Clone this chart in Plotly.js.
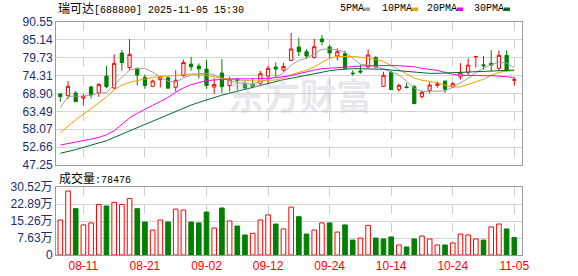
<!DOCTYPE html>
<html><head><meta charset="utf-8">
<script src="https://cdn.plot.ly/plotly-3.0.1.min.js"></script>
<style>html,body{margin:0;padding:0;background:#fff}#chart{width:578px;height:276px}</style>
</head><body><div id="chart"></div>
<script>
// ---------- data ----------
const stockName = '瑞可达';
const stockCode = '688800';
const stamp = '2025-11-05 15:30';
const dates = ['08-06','08-07','08-08','08-11','08-12','08-13','08-14','08-15','08-18','08-19',
  '08-20','08-21','08-22','08-25','08-26','08-27','08-28','08-29','09-01','09-02',
  '09-03','09-04','09-05','09-08','09-09','09-10','09-11','09-12','09-15','09-16',
  '09-17','09-18','09-19','09-22','09-23','09-24','09-25','09-26','09-29','09-30',
  '10-09','10-10','10-13','10-14','10-15','10-16','10-17','10-20','10-21','10-22',
  '10-23','10-24','10-27','10-28','10-29','10-30','10-31','11-03','11-04','11-05'];
const openP = [68.75,68.24,69.05,67.5,70.87,69.05,74.2,70.57,81.16,76.72,
  76.52,73.8,71.07,73.1,73.7,70.77,74.3,77.8,77.2,76.3,
  70.87,75.1,71.3,73.2,71.97,71.77,71.97,74.2,76.9,76.0,
  78.94,82.98,81.57,79.75,85.4,82.98,80.25,80.96,75.1,75.7,
  76.92,79.75,71.07,75.3,70.16,70.9,70.97,67.94,69.85,71.37,
  72.68,70.87,73.9,75.3,80.0,77.6,78.0,76.52,80.46,72.9];
const highP = [68.95,72.68,69.65,68.75,71.2,72.0,77.3,80.76,82.07,85.4,
  76.7,74.7,73.1,74.3,74.0,76.0,79.2,79.95,78.0,79.0,
  73.5,79.3,74.0,73.2,72.7,73.5,75.7,77.3,78.3,78.2,
  87.2,85.8,82.3,85.4,86.6,83.6,82.6,81.87,75.9,77.7,
  82.3,80.25,75.5,75.8,71.87,72.1,71.47,69.85,72.3,72.5,
  72.68,72.3,78.1,79.55,80.1,80.25,82.07,81.97,81.97,73.7];
const lowP = [66.4,67.23,66.4,65.2,67.4,67.9,70.5,70.06,75.8,75.9,
  71.3,70.3,71.07,70.7,70.5,69.5,74.0,75.8,73.5,70.3,
  68.75,69.05,69.5,69.8,69.95,70.46,71.17,71.67,74.0,75.5,
  78.74,80.25,79.55,79.55,83.6,79.55,78.94,76.52,74.3,74.9,
  76.52,76.52,71.07,70.06,69.45,70.46,65.82,67.43,68.85,70.66,
  69.05,70.46,73.1,74.5,76.82,76.1,75.5,75.9,75.5,71.27];
const closeP = [67.94,71.07,66.43,68.0,68.45,71.67,70.97,78.03,78.24,80.76,
  74.5,71.3,72.68,73.9,70.5,72.89,78.3,77.0,76.4,71.3,
  71.67,70.97,73.1,72.8,70.66,71.07,74.9,76.52,76.3,77.1,
  82.37,81.57,80.25,83.08,84.6,81.16,81.57,76.52,74.9,75.4,
  80.56,76.92,74.4,70.06,71.37,70.7,65.82,69.25,71.47,71.77,
  70.16,71.87,75.2,77.5,80.1,77.3,77.5,80.46,76.0,73.1];
const prevClose = 67.2; // close of the session before the first one shown
const ma5 = [64.6,68.0,68.1,68.1,68.4,69.0,69.2,71.4,73.6,76.0,
  76.5,76.5,75.4,73.8,72.6,72.4,73.6,74.5,74.9,75.0,
  74.6,73.4,72.8,72.2,72.0,71.8,72.5,73.2,73.9,75.1,
  77.5,78.9,79.6,80.9,82.3,82.3,82.2,81.4,79.7,77.8,
  77.5,77.0,76.4,75.4,74.6,72.6,70.5,69.5,69.6,69.7,
  69.7,70.8,72.1,73.5,75.2,76.6,77.6,78.4,78.1,76.7];
const ma10 = [57.0,59.0,61.0,62.6,64.3,65.9,67.8,70.0,71.4,72.3,
  72.8,73.3,73.8,74.0,74.2,74.4,74.6,74.8,74.7,74.3,
  73.9,73.5,73.2,73.0,72.8,72.7,72.7,72.8,73.0,73.6,
  74.6,75.3,76.0,77.0,78.4,79.6,80.1,80.2,80.1,79.9,
  79.6,79.2,78.6,77.4,76.1,75.0,73.6,72.9,72.6,72.2,
  71.4,70.8,70.9,71.6,72.4,73.2,74.4,75.3,75.7,75.8];
const ma20 = [53.3,53.7,54.1,54.6,55.1,55.6,56.4,57.6,59.5,61.5,
  62.9,64.0,65.3,66.5,67.7,69.3,70.6,71.6,72.3,72.8,
  73.0,73.2,73.3,73.4,73.3,73.3,73.4,73.5,73.7,73.9,
  74.3,74.9,75.5,76.0,76.4,76.6,76.8,77.0,77.1,77.2,
  77.3,77.4,77.4,77.4,77.3,77.2,77.0,76.5,76.2,75.9,
  75.3,74.7,74.4,74.3,74.3,74.3,74.3,74.2,74.0,73.6];
const ma30 = [50.8,51.3,51.9,52.6,53.2,53.8,54.6,55.6,56.6,57.6,
  58.6,59.5,60.5,61.5,62.5,63.4,64.4,65.4,66.2,67.0,
  67.7,68.4,69.0,69.6,70.3,70.9,71.5,72.1,72.6,73.1,
  73.5,74.0,74.5,75.0,75.4,75.8,76.1,76.3,76.4,76.4,
  76.4,76.3,76.2,76.0,75.8,75.5,75.2,75.0,75.0,75.0,
  75.1,75.2,75.4,75.6,75.7,75.8,75.9,76.0,76.0,76.0];
// volume in 万 (10k lots)
const volume = [15.7,28.7,20.8,13.5,14.4,22.7,22.0,23.6,22.7,25.4,
  20.8,14.8,11.2,15.7,14.8,20.6,20.2,14.8,14.4,19.3,
  12.1,21.1,15.3,13.0,9.0,9.7,15.7,18.0,13.9,11.7,
  21.5,17.2,9.4,11.2,14.4,14.4,10.3,13.5,6.7,7.6,
  13.3,7.6,7.2,8.1,4.5,3.6,7.2,8.5,7.2,4.5,
  4.5,5.4,9.4,9.0,7.2,6.7,12.6,13.9,11.7,7.8476];
const priceTicks = [47.25,52.66,58.07,63.49,68.90,74.31,79.73,85.14,90.55];
const volTicks = [0,7.63,15.26,22.89,30.52];
const dateTicks = ['08-11','08-21','09-02','09-12','09-24','10-14','10-24','11-05'];
const maNames = ['5PMA','10PMA','20PMA','30PMA'];

// ---------- styling ----------
const UP = '#ff0000', DOWN = '#008000';
const maColors = ['#a0a0a0','#f0a000','#ff00ff','#006a30'];
const L = 56, T = 22, W = 466, H = 233;
const px2x = px => (px - L) / W;
const py2y = py => (T + H - py) / H;
const TICKCOL = '#1a2d6e';
const mono = 'Liberation Mono, DejaVu Sans Mono, monospace';
const cjk = 'Noto Sans CJK SC, sans-serif';

const volUp = closeP.map((c, i) => c >= (i ? closeP[i - 1] : prevClose));

const traces = [];
traces.push({
  type: 'candlestick', x: dates, open: openP, high: highP, low: lowP, close: closeP,
  xaxis: 'x', yaxis: 'y', whiskerwidth: 0,
  increasing: {line: {color: UP, width: 1}, fillcolor: '#ffffff'},
  decreasing: {line: {color: DOWN, width: 1}, fillcolor: DOWN},
  hoverinfo: 'skip'
});
[ma5, ma10, ma20, ma30].forEach((m, k) => traces.push({
  type: 'scatter', mode: 'lines', x: dates, y: m, xaxis: 'x', yaxis: 'y',
  line: {color: maColors[k], width: 1}, hoverinfo: 'skip', name: maNames[k]
}));
traces.push({
  type: 'bar', x: dates, y: volume, xaxis: 'x2', yaxis: 'y2', width: 0.6,
  marker: {color: volUp.map(u => u ? '#ffffff' : DOWN),
           line: {color: volUp.map(u => u ? UP : DOWN), width: 1}},
  hoverinfo: 'skip'
});

const gridC = '#d4d4d4', lineC = '#9a9a9a';
const xRange = [-0.56, 60.0];
const layout = {
  width: 578, height: 276, margin: {l: L, r: 578 - L - W, t: T, b: 276 - T - H},
  paper_bgcolor: '#ffffff', plot_bgcolor: '#ffffff', showlegend: false,
  boxgap: 0.4, bargap: 0.4,
  xaxis: {type: 'category', range: xRange, anchor: 'y', showticklabels: false,
    tickmode: 'array', tickvals: dateTicks, ticks: '', showgrid: true, griddash: 'dash',
    gridcolor: '#cfcfcf', showline: true, linecolor: lineC, mirror: true,
    rangeslider: {visible: false}, fixedrange: true},
  yaxis: {domain: [(T + H - 165) / H, 1], range: [priceTicks[0], priceTicks[priceTicks.length - 1]],
    tickmode: 'array', tickvals: priceTicks, ticktext: priceTicks.map(v => v.toFixed(2)),
    ticks: '', gridcolor: gridC, showline: true, linecolor: lineC, mirror: true, zeroline: false,
    tickfont: {family: 'Liberation Sans, Arial, sans-serif', size: 12, color: TICKCOL}, fixedrange: true},
  xaxis2: {type: 'category', range: xRange, anchor: 'y2', tickmode: 'array', tickvals: dateTicks,
    ticktext: dateTicks, ticks: '', showgrid: true, griddash: 'dash', gridcolor: '#cfcfcf',
    showline: true, linecolor: lineC, mirror: true,
    tickfont: {family: 'Liberation Sans, Arial, sans-serif', size: 12, color: '#ff0000'}, fixedrange: true},
  yaxis2: {domain: [0, (T + H - 187) / H], range: [0, volTicks[volTicks.length - 1]],
    tickmode: 'array', tickvals: volTicks, ticktext: volTicks.map(v => v === 0 ? '0' : v.toFixed(2) + '万'),
    ticks: '', gridcolor: gridC, showline: true, linecolor: lineC, mirror: true, zeroline: false,
    tickfont: {family: 'Liberation Sans, Arial, ' + cjk, size: 12, color: TICKCOL}, fixedrange: true},
  annotations: [],
  shapes: []
};

// watermark
layout.annotations.push({xref: 'paper', yref: 'paper', x: px2x(300), y: py2y(94),
  xanchor: 'center', yanchor: 'middle', showarrow: false,
  text: '<b>东方财富</b>', font: {family: cjk, size: 36, color: 'rgba(190,190,200,0.35)'}});
// title
layout.annotations.push({xref: 'paper', yref: 'paper', x: px2x(56), y: py2y(8),
  xanchor: 'left', yanchor: 'middle', showarrow: false,
  text: stockName + '<span style="font-family:' + mono + ';font-size:10px">[' + stockCode + '] ' + stamp + '</span>',
  font: {family: cjk, size: 12, color: '#000000'}});
// legend
const legX = [338, 380, 425, 472];
maNames.forEach((n, k) => {
  layout.annotations.push({xref: 'paper', yref: 'paper', x: px2x(legX[k]), y: py2y(9),
    xanchor: 'left', yanchor: 'middle', showarrow: false, text: n,
    font: {family: mono, size: 10, color: '#000000'}});
  const sx = legX[k] + n.length * 6 + 2;
  layout.shapes.push({type: 'rect', xref: 'paper', yref: 'paper',
    x0: px2x(sx), x1: px2x(sx + 6), y0: py2y(11), y1: py2y(7.5),
    fillcolor: maColors[k], line: {width: 0}});
});
// volume label
layout.annotations.push({xref: 'paper', yref: 'paper', x: px2x(57), y: py2y(177),
  xanchor: 'left', yanchor: 'middle', showarrow: false,
  text: '成交量<span style="font-family:' + mono + ';font-size:10px">:' + Math.round(volume[volume.length - 1] * 10000) + '</span>',
  font: {family: cjk, size: 12, color: '#000000'}});

Plotly.newPlot('chart', traces, layout, {staticPlot: true, displayModeBar: false});
</script></body></html>
